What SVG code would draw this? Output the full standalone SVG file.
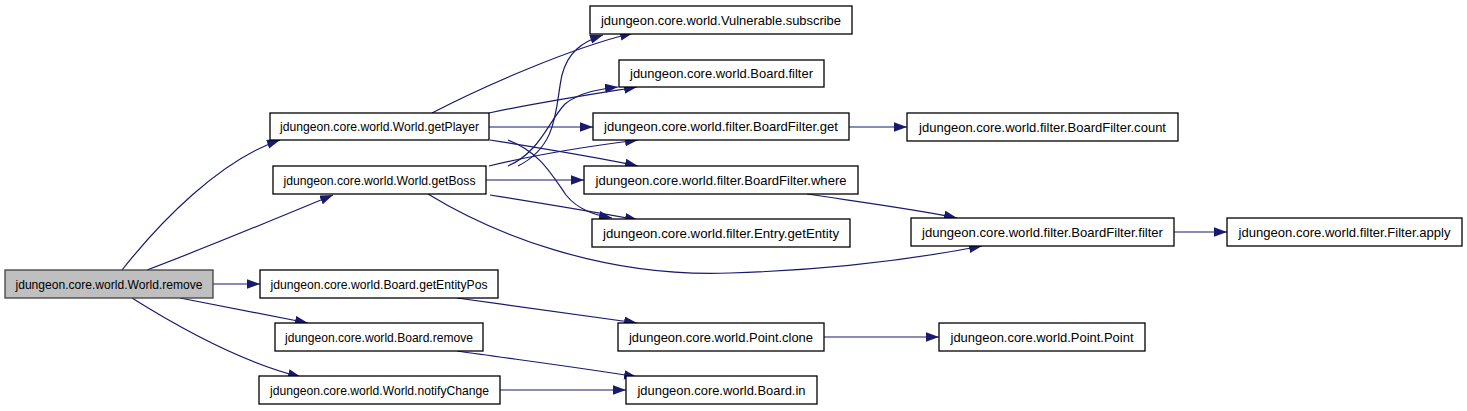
<svg xmlns="http://www.w3.org/2000/svg" width="1467" height="411" viewBox="0 0 1467 411">
<defs>
<marker id="ah" markerUnits="userSpaceOnUse" markerWidth="14" markerHeight="10" refX="13" refY="4.7" orient="auto">
<path d="M0,0 L13,4.7 L0,9.4 z" fill="#191970"/>
</marker>
<style>
.node rect{fill:#ffffff;stroke:#000000;stroke-width:1.3}
.node.root rect{fill:#bfbfbf;stroke:#404040}
.node text{font-family:"Liberation Sans",Arial,sans-serif;font-size:13px;fill:#000000;text-anchor:middle}
.edges path{fill:none;stroke:#191970;stroke-width:1.2;marker-end:url(#ah)}
</style>
</defs>
<rect width="1467" height="411" fill="#ffffff"/>
<g class="edges" id="edges">
<path d="M122,270 C160,222 220,160 280,140"/>
<path d="M147,270 C200,250 280,217 333,195"/>
<path d="M213,284 L260,284"/>
<path d="M180,298 L308,323"/>
<path d="M132,298 C175,325 240,362 301,377"/>
<path d="M432,113 C480,88 570,48 633,33"/>
<path d="M489,113 C540,102 600,93 637,87"/>
<path d="M489,127 L593,127"/>
<path d="M490,140 C540,148 600,158 638,166"/>
<path d="M508,140 C540,152 552,175 566,195 C578,210 595,215 612,218"/>
<path d="M518,166 C560,145 555,105 562,75 C568,52 582,42 603,35"/>
<path d="M508,166 C540,152 548,122 565,104 C580,92 600,89 618,87"/>
<path d="M489,166 C530,156 590,146 638,140"/>
<path d="M486,180 L584,180"/>
<path d="M490,195 C540,203 600,213 638,220"/>
<path d="M428,194 C490,232 600,278 730,273 C830,270 920,258 982,246"/>
<path d="M849,127 L907,127"/>
<path d="M807,194 C860,202 920,210 957,218"/>
<path d="M1174,232 L1227,232"/>
<path d="M457,298 C520,307 590,316 637,323"/>
<path d="M457,351 C520,360 590,369 637,377"/>
<path d="M500,390 L626,390"/>
<path d="M824,337 L939,337"/>
</g>
<g class="node root" id="n_world_remove"><rect x="5" y="270" width="208" height="28"/><text x="109" y="288.5" textLength="187" lengthAdjust="spacingAndGlyphs">jdungeon.core.world.World.remove</text></g>
<g class="node" id="n_world_getplayer"><rect x="270" y="113" width="219" height="27"/><text x="379.5" y="131" textLength="199" lengthAdjust="spacingAndGlyphs">jdungeon.core.world.World.getPlayer</text></g>
<g class="node" id="n_world_getboss"><rect x="273" y="166" width="213" height="28"/><text x="379.5" y="184.5" textLength="192" lengthAdjust="spacingAndGlyphs">jdungeon.core.world.World.getBoss</text></g>
<g class="node" id="n_board_getentitypos"><rect x="260" y="270" width="238" height="28"/><text x="379" y="288.5" textLength="217" lengthAdjust="spacingAndGlyphs">jdungeon.core.world.Board.getEntityPos</text></g>
<g class="node" id="n_board_remove"><rect x="275" y="323" width="208" height="28"/><text x="379" y="341.5" textLength="188" lengthAdjust="spacingAndGlyphs">jdungeon.core.world.Board.remove</text></g>
<g class="node" id="n_world_notifychange"><rect x="259" y="376" width="241" height="28"/><text x="379.5" y="394.5" textLength="219" lengthAdjust="spacingAndGlyphs">jdungeon.core.world.World.notifyChange</text></g>
<g class="node" id="n_vulnerable_subscribe"><rect x="590" y="6" width="262" height="28"/><text x="721" y="24.5" textLength="240" lengthAdjust="spacingAndGlyphs">jdungeon.core.world.Vulnerable.subscribe</text></g>
<g class="node" id="n_board_filter"><rect x="619" y="60" width="205" height="27"/><text x="721.5" y="78" textLength="183" lengthAdjust="spacingAndGlyphs">jdungeon.core.world.Board.filter</text></g>
<g class="node" id="n_boardfilter_get"><rect x="593" y="113" width="256" height="27"/><text x="721" y="131" textLength="234" lengthAdjust="spacingAndGlyphs">jdungeon.core.world.filter.BoardFilter.get</text></g>
<g class="node" id="n_boardfilter_where"><rect x="584" y="166" width="274" height="28"/><text x="721" y="184.5" textLength="251" lengthAdjust="spacingAndGlyphs">jdungeon.core.world.filter.BoardFilter.where</text></g>
<g class="node" id="n_entry_getentity"><rect x="592" y="219" width="258" height="28"/><text x="721" y="237.5" textLength="236" lengthAdjust="spacingAndGlyphs">jdungeon.core.world.filter.Entry.getEntity</text></g>
<g class="node" id="n_point_clone"><rect x="618" y="323" width="206" height="28"/><text x="721" y="341.5" textLength="184" lengthAdjust="spacingAndGlyphs">jdungeon.core.world.Point.clone</text></g>
<g class="node" id="n_board_in"><rect x="626" y="376" width="191" height="28"/><text x="721.5" y="394.5" textLength="168" lengthAdjust="spacingAndGlyphs">jdungeon.core.world.Board.in</text></g>
<g class="node" id="n_boardfilter_count"><rect x="907" y="113" width="271" height="28"/><text x="1042.5" y="131.5" textLength="247" lengthAdjust="spacingAndGlyphs">jdungeon.core.world.filter.BoardFilter.count</text></g>
<g class="node" id="n_boardfilter_filter"><rect x="911" y="218" width="263" height="28"/><text x="1042.5" y="236.5" textLength="241" lengthAdjust="spacingAndGlyphs">jdungeon.core.world.filter.BoardFilter.filter</text></g>
<g class="node" id="n_filter_apply"><rect x="1227" y="218" width="235" height="28"/><text x="1344.5" y="236.5" textLength="212" lengthAdjust="spacingAndGlyphs">jdungeon.core.world.filter.Filter.apply</text></g>
<g class="node" id="n_point_point"><rect x="939" y="323" width="206" height="28"/><text x="1042" y="341.5" textLength="183" lengthAdjust="spacingAndGlyphs">jdungeon.core.world.Point.Point</text></g>
</svg>
